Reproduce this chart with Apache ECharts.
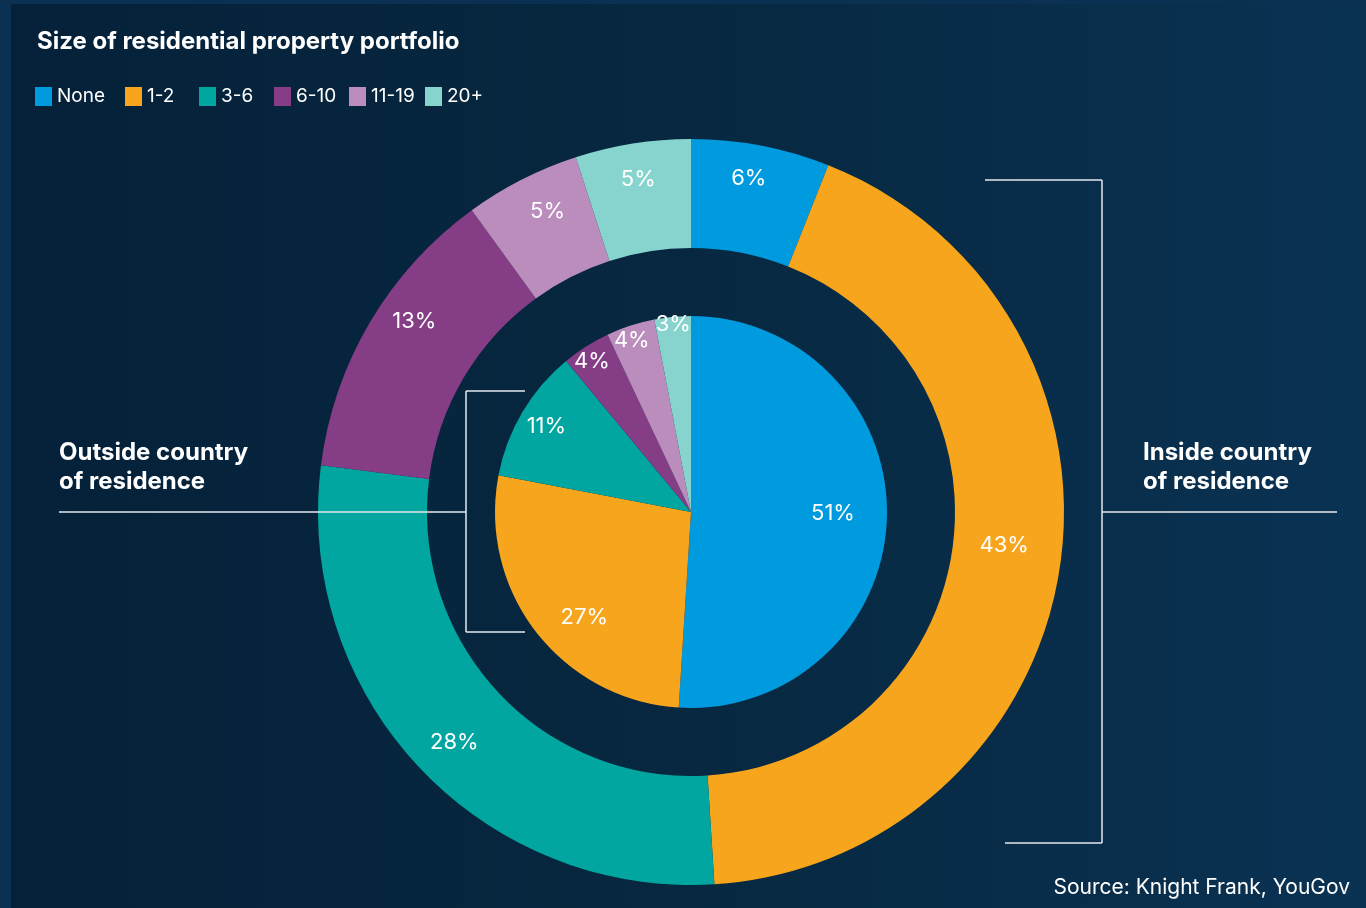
<!DOCTYPE html>
<html>
<head>
<meta charset="utf-8">
<script src="https://cdn.jsdelivr.net/npm/echarts@6/dist/echarts.min.js"></script>
<style>
html,body{margin:0;padding:0;background:#0b3152;}
#chart{width:1366px;height:908px;}
</style>
</head>
<body>
<div id="chart"></div>
<script>
const categories = ['None', '1-2', '3-6', '6-10', '11-19', '20+'];
const insideCountry = [6, 43, 28, 13, 5, 5];
const outsideCountry = [51, 27, 11, 4, 4, 3];
const titleText = 'Size of residential property portfolio';
const sourceText = 'Source: Knight Frank, YouGov';

const colors = ['#009ADE', '#F7A51C', '#00A69F', '#853E86', '#BB8DBC', '#87D3CD'];
const FONT = 'Inter, "Liberation Sans", Arial, sans-serif';

const chart = echarts.init(document.getElementById('chart'), null, {renderer: 'canvas'});

function midAngles(vals) {
  const total = vals.reduce((a, b) => a + b, 0);
  let acc = 0;
  return vals.map(v => { const m = (acc + v / 2) / total * Math.PI * 2; acc += v; return m; });
}
// move each inside label to a chosen radius / small angular tweak around its slice's mid angle
function radialLayout(vals, defaultR, targetR, angleTweakDeg) {
  const angs = midAngles(vals);
  return function (params) {
    const i = params.dataIndex;
    const a0 = angs[i];
    const a1 = a0 + angleTweakDeg[i] * Math.PI / 180;
    const x0 = defaultR * Math.sin(a0), y0 = -defaultR * Math.cos(a0);
    const x1 = targetR[i] * Math.sin(a1), y1 = -targetR[i] * Math.cos(a1);
    return { dx: x1 - x0, dy: y1 - y0 };
  };
}

const CX = 691, CY = 512;
const OUT_R0 = 264, OUT_R1 = 373, IN_R = 196;

const labelStyle = { show: true, position: 'inside', formatter: '{c}%', color: '#ffffff', fontSize: 22, fontFamily: FONT, fontWeight: 400 };

const lineStyle = { stroke: '#e6e9ee', lineWidth: 1.5 };
function seg(x1, y1, x2, y2) {
  return { type: 'line', shape: { x1, y1, x2, y2 }, style: lineStyle, z: 5 };
}

// one legend block per category, laid out in fixed-width columns like the reference
const legendLefts = [35, 125, 199, 274, 349, 425];
const legends = categories.map((c, i) => ({
  left: legendLefts[i], top: 87, padding: 0,
  icon: 'rect', itemWidth: 17, itemHeight: 19,
  data: [c],
  textStyle: { color: '#ffffff', fontSize: 19, fontFamily: FONT }
}));

const option = {
  backgroundColor: '#0b3152',
  color: colors,
  animation: false,
  title: {
    text: titleText,
    left: 37, top: 30, padding: 0,
    textStyle: { color: '#ffffff', fontSize: 24, fontWeight: 700, fontFamily: FONT }
  },
  legend: legends,
  graphic: [
    { type: 'rect', shape: { x: 11, y: 4, width: 1355, height: 904 }, z: -10,
      style: { fill: { type: 'linear', x: 0, y: 0, x2: 1, y2: 0, colorStops: [
        { offset: 0, color: '#05213a' }, { offset: 0.5, color: '#072840' }, { offset: 1, color: '#0a3253' } ] } } },
    seg(985, 180, 1102, 180), seg(1102, 180, 1102, 843), seg(1005, 843, 1102, 843), seg(1102, 512, 1337, 512),
    seg(466, 391, 525, 391), seg(466, 391, 466, 632), seg(466, 632, 525, 632), seg(59, 512, 466, 512),
    { type: 'text', left: 59, top: 438, z: 6,
      style: { text: 'Outside country\nof residence', fill: '#ffffff', font: '700 24px ' + FONT, lineHeight: 29 } },
    { type: 'text', left: 1143, top: 438, z: 6,
      style: { text: 'Inside country\nof residence', fill: '#ffffff', font: '700 24px ' + FONT, lineHeight: 29 } },
    { type: 'text', right: 16, top: 877, z: 6,
      style: { text: sourceText, fill: '#ffffff', font: '400 21px ' + FONT } }
  ],
  series: [
    {
      name: 'Inside country of residence', type: 'pie',
      center: [CX, CY], radius: [OUT_R0, OUT_R1],
      startAngle: 90, clockwise: true, avoidLabelOverlap: false,
      label: labelStyle, labelLine: { show: false },
      labelLayout: radialLayout(insideCountry, (OUT_R0 + OUT_R1) / 2, [336, 312, 327, 333, 330, 334], [-1, -3, -1, 4, 1.5, 0]),
      itemStyle: { borderWidth: 0 },
      emphasis: { disabled: true },
      data: categories.map((c, i) => ({ name: c, value: insideCountry[i] }))
    },
    {
      name: 'Outside country of residence', type: 'pie',
      center: [CX, CY], radius: [0, IN_R],
      startAngle: 90, clockwise: true, avoidLabelOverlap: false,
      label: labelStyle, labelLine: { show: false },
      labelLayout: radialLayout(outsideCountry, IN_R / 2, [139, 147, 165, 177, 179, 185], [-1.4, -7, 0, -1, -1, 0]),
      itemStyle: { borderWidth: 0 },
      emphasis: { disabled: true },
      data: categories.map((c, i) => ({ name: c, value: outsideCountry[i] }))
    }
  ]
};
chart.setOption(option);
</script>
</body>
</html>
